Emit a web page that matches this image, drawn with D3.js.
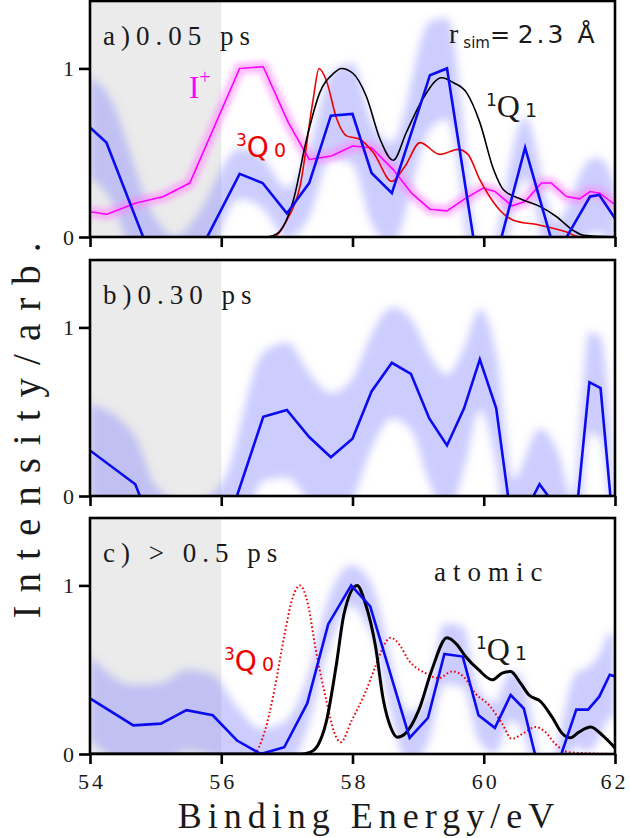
<!DOCTYPE html>
<html><head><meta charset="utf-8">
<script src="https://cdn.jsdelivr.net/npm/d3@7"></script>
<style>body{margin:0;background:#fff;} svg{display:block;}</style>
</head><body>
<svg id="chart" width="630" height="838"></svg>
<script>
// ---------- data ----------
const energyTicks = [54, 56, 58, 60, 62];
const intensityTicks = [0, 1];
const panelTitles = ["a)0.05 ps", "b)0.30 ps", "c) > 0.5 ps"];

// panel a: experiment (0.05 ps)
const aExpE   = [54.0, 54.25, 55.0, 55.3, 55.6, 56.28, 56.63, 57.0, 57.34, 57.67, 58.0, 58.29, 58.6, 59.18, 59.44, 60.0, 60.63, 61.1, 61.62, 61.76, 62.0];
const aExpY   = [0.65, 0.56, -0.19, -0.3, -0.14, 0.375, 0.32, 0.14, 0.32, 0.72, 0.73, 0.38, 0.26, 0.96, 1.0, -0.4, 0.53, -0.11, 0.24, 0.25, 0.11];
const aExpErr = [0.3, 0.3, 0.3, 0.3, 0.25, 0.15, 0.15, 0.15, 0.2, 0.25, 0.3, 0.3, 0.3, 0.32, 0.3, 0.2, 0.18, 0.2, 0.22, 0.22, 0.2];
// panel a: I+ ion spectrum
const aIonE = [54.0, 54.26, 54.69, 55.12, 55.52, 56.28, 56.64, 57.02, 57.34, 57.68, 58.0, 58.29, 58.62, 58.9, 59.18, 59.44, 59.71, 59.99, 60.17, 60.43, 60.63, 60.88, 61.03, 61.26, 61.46, 61.62, 61.77, 61.97, 62.0];
const aIonY = [0.15, 0.135, 0.2, 0.24, 0.32, 1.0, 1.01, 0.68, 0.46, 0.48, 0.54, 0.53, 0.40, 0.26, 0.165, 0.155, 0.226, 0.29, 0.27, 0.185, 0.21, 0.32, 0.32, 0.24, 0.226, 0.27, 0.26, 0.2, 0.2];
// panel a: simulated 3Q0 (r_sim = 2.3 Å)
const aTripE = [54.0, 56.6, 56.79, 57.0, 57.2, 57.4, 57.49, 57.6, 57.76, 57.91, 58.11, 58.32, 58.6, 58.8, 59.03, 59.33, 59.61, 59.76, 59.94, 60.2, 60.45, 60.86, 61.26, 61.47, 62.0];
const aTripY = [0, 0, 0.0, 0.1, 0.3, 0.815, 1.0, 0.93, 0.70, 0.6, 0.58, 0.5, 0.33, 0.42, 0.56, 0.49, 0.52, 0.49, 0.34, 0.18, 0.10, 0.07, 0.03, 0.0, 0];
// panel a: simulated 1Q1
const aSingE = [54.0, 56.7, 56.85, 57.1, 57.3, 57.5, 57.71, 57.83, 58.01, 58.21, 58.42, 58.62, 58.82, 59.08, 59.36, 59.54, 59.74, 59.94, 60.15, 60.3, 60.6, 60.86, 61.11, 61.36, 61.52, 62.0];
const aSingY = [0, 0, 0.02, 0.22, 0.58, 0.855, 0.97, 1.0, 0.97, 0.835, 0.58, 0.455, 0.62, 0.825, 0.945, 0.915, 0.855, 0.68, 0.40, 0.28, 0.22, 0.18, 0.12, 0.04, 0.01, 0];

// panel b: experiment (0.30 ps)
const bExpE   = [54.0, 54.69, 55.0, 55.5, 56.0, 56.64, 57.0, 57.34, 57.67, 58.0, 58.29, 58.6, 58.89, 59.17, 59.44, 59.7, 59.94, 60.19, 60.45, 60.85, 61.15, 61.35, 61.61, 61.78, 62.0];
const bExpY   = [0.27, 0.07, -0.24, -0.35, -0.28, 0.47, 0.51, 0.35, 0.23, 0.34, 0.62, 0.79, 0.725, 0.46, 0.30, 0.52, 0.81, 0.52, -0.23, 0.07, -0.09, -0.35, 0.675, 0.64, -0.3];
const bExpErr = [0.28, 0.28, 0.3, 0.3, 0.35, 0.38, 0.4, 0.38, 0.38, 0.36, 0.34, 0.33, 0.33, 0.38, 0.42, 0.36, 0.3, 0.33, 0.33, 0.33, 0.33, 0.33, 0.3, 0.3, 0.33];

// panel c: experiment (> 0.5 ps)
const cExpE   = [54.0, 54.66, 55.08, 55.47, 55.87, 56.24, 56.6, 56.96, 57.31, 57.63, 57.98, 58.27, 58.87, 59.15, 59.4, 59.68, 59.92, 60.17, 60.41, 60.61, 60.95, 61.41, 61.59, 61.76, 61.92, 62.0];
const cExpY   = [0.33, 0.17, 0.18, 0.26, 0.23, 0.08, 0.0, 0.04, 0.3, 0.77, 1.0, 0.876, 0.096, 0.215, 0.594, 0.578, 0.23, 0.155, 0.35, 0.27, -0.27, 0.263, 0.263, 0.34, 0.47, 0.46];
const cExpErr = [0.25, 0.24, 0.24, 0.24, 0.24, 0.2, 0.15, 0.15, 0.15, 0.15, 0.12, 0.15, 0.15, 0.15, 0.18, 0.18, 0.15, 0.15, 0.15, 0.15, 0.15, 0.22, 0.25, 0.25, 0.25, 0.25];
// panel c: atomic 3Q0
const cTripE = [54.0, 56.48, 56.66, 56.81, 56.96, 57.09, 57.2, 57.32, 57.44, 57.6, 57.72, 57.82, 57.99, 58.19, 58.35, 58.45, 58.58, 58.73, 58.85, 59.11, 59.31, 59.52, 59.69, 59.87, 60.08, 60.28, 60.43, 60.59, 60.79, 60.94, 61.09, 61.3, 62.0];
const cTripY = [0, 0, 0.13, 0.38, 0.70, 0.93, 1.0, 0.89, 0.62, 0.32, 0.13, 0.07, 0.2, 0.36, 0.52, 0.62, 0.69, 0.64, 0.56, 0.48, 0.45, 0.49, 0.46, 0.36, 0.29, 0.18, 0.09, 0.12, 0.16, 0.13, 0.06, 0.01, 0];
// panel c: atomic 1Q1
const cSingE = [54.0, 57.2, 57.35, 57.47, 57.6, 57.75, 57.87, 58.07, 58.19, 58.35, 58.47, 58.58, 58.68, 58.8, 59.01, 59.21, 59.44, 59.59, 59.72, 59.92, 60.13, 60.28, 60.41, 60.56, 60.69, 60.87, 61.04, 61.2, 61.32, 61.45, 61.63, 61.81, 62.0];
const cSingY = [0, 0, 0.01, 0.05, 0.19, 0.52, 0.83, 1.0, 0.9, 0.64, 0.32, 0.16, 0.10, 0.12, 0.26, 0.50, 0.69, 0.65, 0.58, 0.50, 0.44, 0.48, 0.49, 0.42, 0.35, 0.31, 0.22, 0.12, 0.096, 0.13, 0.16, 0.11, 0.036];

// ---------- layout ----------
const svg = d3.select("#chart");
const left = 90, right = 615;
const panelTops = [1, 260, 518];
const panelH = 236;
const x = d3.scaleLinear().domain([54, 62]).range([left, right]);

const zip = (E, Y, Err) => E.map((e, i) => ({e, v: Y[i], err: Err ? Err[i] : 0}));

const defs = svg.append("defs");
const blur = defs.append("filter").attr("id", "blur").attr("x", "-20%").attr("y", "-50%").attr("width", "140%").attr("height", "200%");
blur.append("feGaussianBlur").attr("stdDeviation", 4.5);
const blur2 = defs.append("filter").attr("id", "glow").attr("x", "-20%").attr("y", "-50%").attr("width", "140%").attr("height", "200%");
blur2.append("feGaussianBlur").attr("stdDeviation", 2.5);

const panels = [
  {exp: zip(aExpE, aExpY, aExpErr)},
  {exp: zip(bExpE, bExpY, bExpErr)},
  {exp: zip(cExpE, cExpY, cExpErr)}
];

const SERIF = "Liberation Serif, Times New Roman, Times, serif";
const SANS = "DejaVu Sans, sans-serif";
const INK = "#1a1a1a";

panels.forEach((p, i) => {
  const top = panelTops[i], bottom = top + panelH;
  const y = d3.scaleLinear().domain([0, 1.4]).range([bottom, top]);
  const g = svg.append("g");
  defs.append("clipPath").attr("id", "clip" + i)
    .append("rect").attr("x", left).attr("y", top).attr("width", right - left).attr("height", panelH);

  const inner = g.append("g").attr("clip-path", `url(#clip${i})`);
  inner.append("rect").attr("x", x(54)).attr("y", top).attr("width", x(56) - x(54)).attr("height", panelH)
    .attr("fill", "#ebebeb");
  const area = d3.area().x(d => x(d.e)).y0(d => y(d.v - d.err)).y1(d => y(d.v + d.err)).curve(d3.curveMonotoneX);
  inner.append("g").attr("filter", "url(#blur)")
    .append("path").datum(p.exp).attr("d", area).attr("fill", "#7f7fff").attr("opacity", 0.4);

  const line = d3.line().x(d => x(d.e)).y(d => y(d.v));
  const smooth = d3.line().x(d => x(d.e)).y(d => y(d.v)).curve(d3.curveMonotoneX);

  if (i === 0) {
    const ion = zip(aIonE, aIonY);
    inner.append("g").attr("filter", "url(#glow)")
      .append("path").datum(ion).attr("d", line).attr("fill", "none")
      .attr("stroke", "#ff80ff").attr("stroke-width", 12).attr("opacity", 0.5).attr("stroke-linejoin", "round");
    inner.append("path").datum(ion).attr("d", line).attr("fill", "none")
      .attr("stroke", "#ff00ff").attr("stroke-width", 1.6);
    inner.append("path").datum(zip(aTripE, aTripY)).attr("d", smooth).attr("fill", "none")
      .attr("stroke", "#ee0000").attr("stroke-width", 1.6);
    inner.append("path").datum(zip(aSingE, aSingY)).attr("d", smooth).attr("fill", "none")
      .attr("stroke", "#000").attr("stroke-width", 1.6);
  }
  if (i === 2) {
    inner.append("path").datum(zip(cTripE, cTripY)).attr("d", smooth).attr("fill", "none")
      .attr("stroke", "#ee0000").attr("stroke-width", 2).attr("stroke-dasharray", "1.6,2.4");
    inner.append("path").datum(zip(cSingE, cSingY)).attr("d", smooth).attr("fill", "none")
      .attr("stroke", "#000").attr("stroke-width", 3);
  }
  inner.append("path").datum(p.exp).attr("d", line).attr("fill", "none")
    .attr("stroke", "#0b0bef").attr("stroke-width", 2.6).attr("stroke-linejoin", "miter");

  g.append("rect").attr("x", left).attr("y", top).attr("width", right - left).attr("height", panelH)
    .attr("fill", "none").attr("stroke", "#000").attr("stroke-width", 2.6);

  const ya = g.append("g").attr("transform", `translate(${left},0)`)
    .call(d3.axisLeft(y).tickValues(intensityTicks).tickFormat(d3.format("d")).tickSize(11).tickPadding(5));
  const xa = g.append("g").attr("transform", `translate(0,${bottom})`)
    .call(d3.axisBottom(x).tickValues(energyTicks).tickSize(10).tickPadding(9));
  [ya, xa].forEach(a => {
    a.select(".domain").remove();
    a.selectAll(".tick line").attr("stroke", "#000").attr("stroke-width", 2.6);
    a.selectAll("text").attr("font-family", SERIF).attr("font-size", 22).attr("fill", INK);
  });
  if (i < 2) xa.selectAll("text").remove();
  else xa.selectAll("text").attr("letter-spacing", 3).attr("dx", d => d === 62 ? -1 : 1.5);

  g.append("text").attr("x", 103).attr("y", top + 44).attr("font-family", SERIF).attr("font-size", 27)
    .attr("letter-spacing", 6).attr("fill", INK).text(panelTitles[i]);
});

// annotations panel a
const ta = svg.append("g");
const rsim = ta.append("text").attr("x", 449).attr("y", 43).attr("fill", INK);
rsim.append("tspan").attr("font-family", SERIF).attr("font-size", 28).text("r");
rsim.append("tspan").attr("font-family", SANS).attr("font-size", 15).attr("dx", 5).attr("dy", 5).text("sim");
rsim.append("tspan").attr("font-family", SANS).attr("font-size", 24).attr("dy", -5).text("= ");
rsim.append("tspan").attr("font-family", SANS).attr("font-size", 25).attr("letter-spacing", 3).text("2.3 Å");

const ip = ta.append("text").attr("x", 189).attr("y", 98).attr("fill", "#ff00ff").attr("font-family", SERIF);
ip.append("tspan").attr("font-size", 31).text("I");
ip.append("tspan").attr("font-size", 20).attr("dy", -14).text("+");

function qLabel(sel, xp, yp, sup, sub, color, qFont) {
  const t = sel.append("text").attr("x", xp).attr("y", yp).attr("fill", color);
  t.append("tspan").attr("font-family", SANS).attr("font-size", 17).attr("dy", -11).text(sup);
  t.append("tspan").attr("font-family", qFont).attr("font-size", qFont === SANS ? 28 : 32).attr("dy", 11).text("Q");
  t.append("tspan").attr("font-family", SANS).attr("font-size", 19).attr("dx", 5).text(sub);
}
qLabel(ta, 236, 157, "3", "0", "#ee0000", SANS);
qLabel(ta, 486, 117, "1", "1", INK, SERIF);

// annotations panel c
const tc = svg.append("g");
tc.append("text").attr("x", 434).attr("y", 581).attr("font-family", SERIF).attr("font-size", 27)
  .attr("letter-spacing", 7).attr("fill", INK).text("atomic");
qLabel(tc, 224, 671, "3", "0", "#ee0000", SANS);
qLabel(tc, 476, 660, "1", "1", INK, SERIF);

// axis titles
svg.append("text").attr("x", 369).attr("y", 828).attr("text-anchor", "middle")
  .attr("font-family", SERIF).attr("font-size", 36).attr("letter-spacing", 6).attr("fill", INK)
  .text("Binding Energy/eV");
svg.append("text").attr("transform", "translate(40,424) rotate(-90)").attr("text-anchor", "middle")
  .attr("font-family", SERIF).attr("font-size", 39).attr("letter-spacing", 13).attr("fill", INK)
  .text("Intensity/arb.");
</script>
</body></html>
